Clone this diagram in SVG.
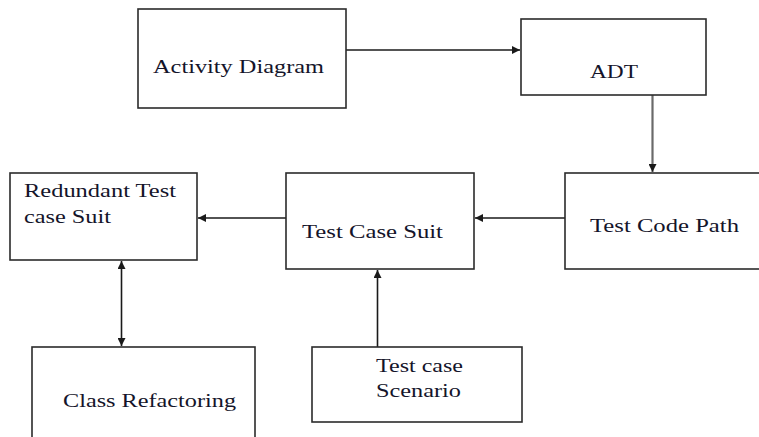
<svg xmlns="http://www.w3.org/2000/svg" width="759" height="437" viewBox="0 0 759 437">
  <style>
    .box { fill: #ffffff; stroke: #2b2b2b; stroke-width: 1.6; }
    .lbl { font-family: "Liberation Serif", "Times New Roman", serif; font-size: 19px; fill: #14142a; }
    .edge { fill: none; stroke: #1a1a1a; stroke-width: 1.6; }
    .edge.grey { stroke: #6a6a6a; stroke-width: 2.2; }
  </style>
  <defs>
    <marker id="arrow" viewBox="0 0 10 10" refX="10" refY="5" markerWidth="8" markerHeight="8" markerUnits="userSpaceOnUse" orient="auto-start-reverse">
      <path d="M0,0 L10,5 L0,10 Z" fill="#1a1a1a"/>
    </marker>
  </defs>
  <rect width="759" height="437" fill="#ffffff"/>

  <g id="connectors">
    <line class="edge" x1="346" y1="50" x2="520" y2="50" marker-end="url(#arrow)"/>
    <line class="edge grey" x1="652.5" y1="95" x2="652.5" y2="172" marker-end="url(#arrow)"/>
    <line class="edge" x1="565" y1="218" x2="475" y2="218" marker-end="url(#arrow)"/>
    <line class="edge" x1="286" y1="218" x2="198" y2="218" marker-end="url(#arrow)"/>
    <line class="edge" x1="121.5" y1="261" x2="121.5" y2="346" marker-start="url(#arrow)" marker-end="url(#arrow)"/>
    <line class="edge" x1="377.5" y1="347" x2="377.5" y2="270" marker-end="url(#arrow)"/>
  </g>

  <g id="activity-diagram">
    <rect class="box" x="138" y="9" width="208" height="99"/>
    <text class="lbl" x="153" y="73" textLength="171" lengthAdjust="spacingAndGlyphs">Activity Diagram</text>
  </g>

  <g id="adt">
    <rect class="box" x="521" y="19" width="185" height="76"/>
    <text class="lbl" x="590" y="78" textLength="48" lengthAdjust="spacingAndGlyphs">ADT</text>
  </g>

  <g id="test-code-path">
    <rect class="box" x="565" y="173" width="200" height="96"/>
    <text class="lbl" x="590" y="232" textLength="149" lengthAdjust="spacingAndGlyphs">Test Code Path</text>
  </g>

  <g id="test-case-suit">
    <rect class="box" x="286" y="173" width="188" height="96"/>
    <text class="lbl" x="302" y="238" textLength="141" lengthAdjust="spacingAndGlyphs">Test Case Suit</text>
  </g>

  <g id="redundant-test-case-suit">
    <rect class="box" x="10" y="173" width="187" height="87"/>
    <text class="lbl" x="24" y="197" textLength="152" lengthAdjust="spacingAndGlyphs">Redundant Test</text>
    <text class="lbl" x="24" y="223" textLength="87" lengthAdjust="spacingAndGlyphs">case Suit</text>
  </g>

  <g id="class-refactoring">
    <rect class="box" x="32" y="347" width="223" height="95"/>
    <text class="lbl" x="63" y="407" textLength="173" lengthAdjust="spacingAndGlyphs">Class Refactoring</text>
  </g>

  <g id="test-case-scenario">
    <rect class="box" x="312" y="347" width="210" height="75"/>
    <text class="lbl" x="376" y="372" textLength="87" lengthAdjust="spacingAndGlyphs">Test case</text>
    <text class="lbl" x="376" y="397" textLength="85" lengthAdjust="spacingAndGlyphs">Scenario</text>
  </g>
</svg>
